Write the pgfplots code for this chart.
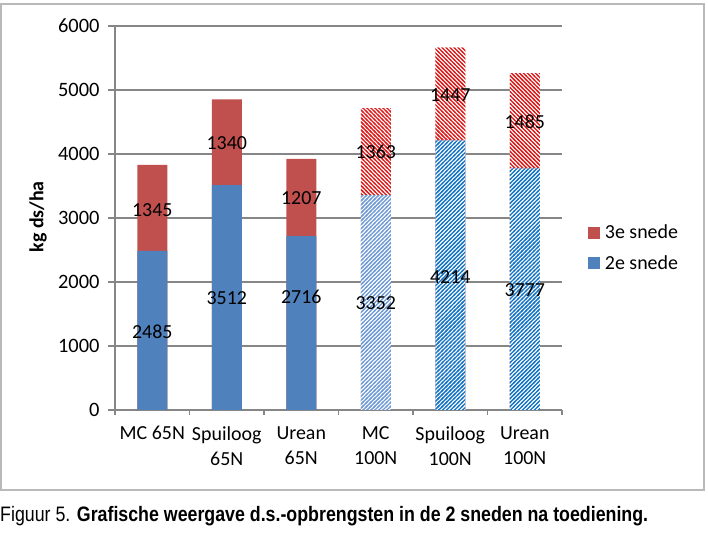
\documentclass[border=0pt]{standalone}
\usepackage{pgfplots}
\pgfplotsset{compat=1.18}
\usepackage{fontspec}
\setmainfont{Carlito}
\newfontfamily\capfont[FakeStretch=0.85]{Liberation Sans}
\usetikzlibrary{patterns}

\definecolor{redsolid}{HTML}{C0504D}
\definecolor{bluesolid}{HTML}{4F81BD}
\definecolor{hatchred}{HTML}{DD1C1C}
\definecolor{hatchblue}{HTML}{1475C6}
\definecolor{hatchlight}{HTML}{6F9BD6}
\definecolor{gridgray}{HTML}{868686}

\pgfdeclarepatternformonly{NEthick}{\pgfqpoint{-1pt}{-1pt}}{\pgfqpoint{5pt}{5pt}}{\pgfqpoint{4pt}{4pt}}{%
  \pgfsetlinewidth{1.3pt}%
  \pgfpathmoveto{\pgfqpoint{-1pt}{-1pt}}\pgfpathlineto{\pgfqpoint{5pt}{5pt}}\pgfusepath{stroke}}
\pgfdeclarepatternformonly{NWthick}{\pgfqpoint{-1pt}{-1pt}}{\pgfqpoint{5pt}{5pt}}{\pgfqpoint{4pt}{4pt}}{%
  \pgfsetlinewidth{1.3pt}%
  \pgfpathmoveto{\pgfqpoint{-1pt}{5pt}}\pgfpathlineto{\pgfqpoint{5pt}{-1pt}}\pgfusepath{stroke}}

\begin{document}
\begin{tikzpicture}[x=1bp,y=1bp,font=\fontsize{20}{24}\selectfont]
\useasboundingbox (0,0) rectangle (708,538);
\draw[color=gray!55, line width=1.2bp] (1,48) rectangle (704,534);
\begin{axis}[
  at={(115bp,128bp)}, anchor=south west,
  scale only axis, width=447bp, height=384bp,
  xmin=-0.5, xmax=5.5, ymin=0, ymax=6000,
  axis lines*=left,
  axis line style={gridgray, line width=1.6bp},
  /pgf/number format/assume math mode=true,
  /pgf/number format/1000 sep={},
  xtick={0,...,5},
  xticklabels={{MC 65N},{Spuiloog\\65N},{Urean\\65N},{MC\\100N},{Spuiloog\\100N},{Urean\\100N}},
  xticklabel style={align=center, font=\fontsize{20}{25}\selectfont, yshift=-6bp},
  major x tick style={draw=none},
  minor xtick={-0.5,0.5,...,5.5},
  minor x tick style={gridgray, line width=1.3bp},
  minor tick length=5bp,
  ytick={0,1000,...,6000},
  yticklabel={\pgfmathprintnumber{\tick}},
  y tick style={gridgray, line width=1.3bp},
  major tick length=7bp,
  tick align=outside,
  yticklabel style={xshift=-5bp, font=\fontsize{20.5}{24}\selectfont},
  ymajorgrids, grid style={gridgray, line width=1.3bp},
  ylabel={\bfseries kg ds/ha},
  ylabel style={at={(axis description cs:-0.172,0.503)}, anchor=center},
  legend style={draw=none, fill=none, at={(axis description cs:1.052,0.422)}, anchor=west,
    row sep=11bp, font=\fontsize{20}{24}\selectfont, legend cell align=left,
    nodes={inner xsep=4.5bp}},
]
% 3e snede (total heights), solid
\addplot[ybar, bar width=30bp, bar shift=0pt, fill=redsolid, draw=none,
  legend image code/.code={\fill[redsolid] (0bp,-6bp) rectangle (12bp,6bp);}]
  coordinates {(0,3830) (1,4852) (2,3923)};
\addlegendentry{3e snede}
% 2e snede, solid
\addplot[ybar, bar width=30bp, bar shift=0pt, fill=bluesolid, draw=none,
  legend image code/.code={\fill[bluesolid] (0bp,-6bp) rectangle (12bp,6bp);}]
  coordinates {(0,2485) (1,3512) (2,2716)};
\addlegendentry{2e snede}
% 3e snede (total heights), hatched
\addplot[forget plot, ybar, bar width=30bp, bar shift=0pt, fill=white, draw=none,
  postaction={pattern=NWthick, pattern color=hatchred}]
  coordinates {(3,4715) (4,5661) (5,5262)};
% 2e snede MC 100N, light hatch
\addplot[forget plot, ybar, bar width=30bp, bar shift=0pt, fill=white, draw=none,
  postaction={pattern=NEthick, pattern color=hatchlight}]
  coordinates {(3,3352)};
% 2e snede others 100N, hatch
\addplot[forget plot, ybar, bar width=30bp, bar shift=0pt, fill=white, draw=none,
  postaction={pattern=NEthick, pattern color=hatchblue}]
  coordinates {(4,4214) (5,3777)};
% data labels
\addplot[forget plot, draw=none, mark=none, nodes near coords, point meta=explicit symbolic,
  every node near coord/.append style={anchor=center, black, inner sep=0pt, font=\fontsize{20}{24}\selectfont}]
  table[meta=lab] {
x y lab
0 1219 2485
0 3125 1345
1 1750 3512
1 4172 1340
2 1766 2716
2 3313 1207
3 1672 3352
3 4031 1363
4 2078 4214
4 4922 1447
5 1875 3777
5 4500 1485
};
\end{axis}
\node[anchor=base west, inner sep=0pt] at (0,16) {\capfont\fontsize{21}{24}\selectfont Figuur 5. \textbf{Grafische weergave d.s.-opbrengsten in de 2 sneden na toediening.}};
\end{tikzpicture}
\end{document}
